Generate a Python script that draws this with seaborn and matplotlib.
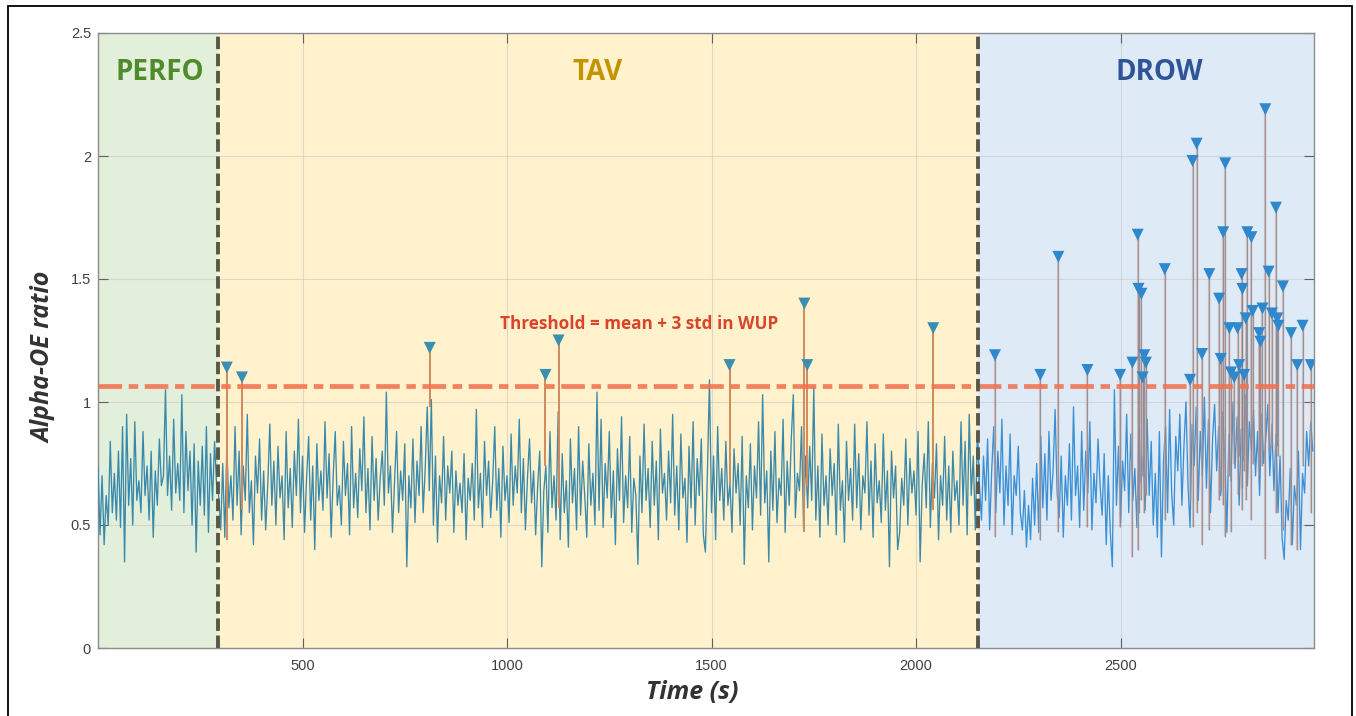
import numpy as np
import pandas as pd
import matplotlib
matplotlib.use("Agg")
import matplotlib.pyplot as plt
import seaborn as sns
from matplotlib.patches import Rectangle

# ---------------- data ----------------
STEP = 5  # seconds between samples

perfo_vals = [0.74, 0.46, 0.70, 0.42, 0.62, 0.50, 0.84, 0.55, 0.71, 0.52,
              0.80, 0.49, 0.90, 0.35, 0.95, 0.58, 0.77, 0.50, 0.92, 0.60,
              0.68, 0.55, 0.88, 0.62, 0.74, 0.52, 0.80, 0.45, 0.72, 0.58,
              0.85, 0.66, 0.70, 1.05, 0.62, 0.78, 0.56, 0.93, 0.63, 0.75,
              0.60, 1.03, 0.55, 0.88, 0.64, 0.80, 0.50, 0.83, 0.39, 0.76,
              0.58, 0.82, 0.54, 0.90, 0.47, 0.79, 0.60, 0.84, 0.66]

tav_vals = [0.62, 0.48, 0.75, 0.45, 0.82, 0.57, 0.70, 0.52, 0.90, 0.58, 0.80, 0.46, 0.74, 0.60, 0.95, 0.55, 0.68, 0.42, 0.78, 0.63,
            0.85, 0.52, 0.72, 0.48, 0.66, 0.91, 0.58, 0.76, 0.50, 0.82, 0.61, 0.70, 0.44, 0.88, 0.57, 0.73, 0.49, 0.80, 0.62, 0.93,
            0.55, 0.78, 0.47, 0.69, 0.86, 0.52, 0.74, 0.40, 0.83, 0.60, 0.72, 0.56, 0.92, 0.61, 0.79, 0.45, 0.70, 0.88, 0.58, 0.66,
            0.50, 0.84, 0.62, 0.75, 0.46, 0.90, 0.57, 0.71, 0.53, 0.81, 0.64, 0.94, 0.55, 0.73, 0.48, 0.86, 0.60, 0.77, 0.52, 0.69,
            0.80, 0.58, 1.04, 0.63, 0.74, 0.47, 0.67, 0.88, 0.55, 0.72, 0.60, 0.83, 0.33, 0.70, 0.57, 0.85, 0.51, 0.76, 0.62, 0.90,
            0.55, 0.73, 0.98, 0.64, 1.01, 0.50, 0.78, 0.43, 0.70, 0.59, 0.86, 0.52, 0.74, 0.63, 0.80, 0.47, 0.72, 0.58, 0.67, 0.55,
            0.79, 0.44, 0.69, 0.60, 0.75, 0.52, 0.97, 0.57, 0.71, 0.49, 0.84, 0.62, 0.76, 0.53, 0.68, 0.90, 0.56, 0.73, 0.45, 0.82,
            0.60, 0.70, 0.51, 0.87, 0.58, 0.74, 0.63, 0.93, 0.55, 0.77, 0.48, 0.69, 0.85, 0.59, 0.72, 0.46, 0.66, 0.80, 0.33, 0.64,
            0.74, 0.47, 0.88, 0.57, 0.70, 0.52, 0.96, 0.44, 0.79, 0.55, 0.68, 0.41, 0.85, 0.59, 0.73, 0.48, 0.90, 0.54, 0.76, 0.62,
            0.45, 0.83, 0.58, 0.71, 0.50, 1.04, 0.56, 0.93, 0.49, 0.75, 0.61, 0.88, 0.53, 0.72, 0.42, 0.81, 0.60, 0.94, 0.51, 0.70,
            0.57, 0.86, 0.47, 0.69, 0.62, 0.34, 0.78, 0.55, 0.91, 0.60, 0.73, 0.49, 0.84, 0.58, 0.76, 0.44, 0.89, 0.63, 0.71, 0.52,
            0.80, 0.59, 0.95, 0.54, 0.74, 0.48, 0.87, 0.61, 0.69, 0.43, 0.82, 0.57, 0.92, 0.50, 0.77, 0.62, 0.85, 0.46, 0.39, 0.72,
            1.09, 0.55, 0.78, 0.44, 0.90, 0.60, 0.73, 0.52, 0.84, 0.58, 0.67, 0.47, 0.81, 0.63, 0.75, 0.50, 0.86, 0.34, 0.70, 0.57,
            0.83, 0.48, 0.74, 0.61, 0.92, 0.54, 1.03, 0.59, 0.72, 0.35, 0.80, 0.56, 0.88, 0.51, 0.69, 0.62, 0.93, 0.47, 0.76, 0.58,
            0.85, 1.03, 0.53, 0.71, 0.64, 0.90, 0.49, 0.78, 0.57, 0.82, 0.60, 1.06, 0.52, 0.74, 0.45, 0.87, 0.58, 0.70, 0.50, 0.81,
            0.62, 0.75, 0.46, 0.91, 0.56, 0.68, 0.43, 0.84, 0.60, 0.73, 0.52, 0.91, 0.57, 0.79, 0.48, 0.70, 0.63, 0.92, 0.54, 0.76,
            0.45, 0.83, 0.59, 0.68, 0.51, 0.87, 0.56, 0.72, 0.33, 0.80, 0.61, 0.74, 0.40, 0.47, 0.69, 0.58, 0.85, 0.50, 0.77, 0.63,
            0.72, 0.54, 0.88, 0.35, 0.66, 0.79, 0.57, 0.92, 0.49, 0.75, 0.61, 0.83, 0.44, 0.70, 0.58, 0.86, 0.52, 0.74, 0.47, 0.80,
            0.60, 0.68, 0.50, 0.92, 0.58, 0.84, 0.46, 0.95, 0.62, 0.78, 0.48, 0.88]

drow_vals = [0.66, 0.52, 0.78, 0.60, 0.85, 0.48, 0.72, 0.90, 0.55, 0.80, 0.63, 0.93, 0.50, 0.74, 0.58, 0.87, 0.46, 0.70, 0.62, 0.82,
             0.55, 0.48, 0.64, 0.41, 0.58, 0.44, 0.69, 0.50, 0.75, 0.47, 0.86, 0.57, 0.79, 0.52, 0.88, 0.60, 0.72, 0.97, 0.63, 0.53,
             0.78, 0.45, 0.70, 0.58, 0.83, 0.52, 0.98, 0.62, 0.74, 0.49, 0.88, 0.56, 0.80, 0.63, 0.92, 0.48, 0.71, 0.59, 0.85, 0.66,
             0.54, 0.79, 0.42, 0.70, 0.47, 0.33, 1.05, 0.58, 0.82, 0.51, 0.76, 0.64, 0.95, 0.55, 0.87, 0.60, 0.73, 0.49, 0.90, 0.67,
             0.78, 0.56, 0.93, 0.62, 0.84, 0.50, 0.71, 0.45, 0.88, 0.37, 0.76, 0.90, 0.55, 0.97, 0.63, 0.50, 0.86, 0.72, 0.95, 0.58,
             0.82, 1.00, 0.66, 0.49, 0.91, 0.74, 0.98, 0.60, 0.88, 0.70, 1.02, 0.65, 0.93, 0.55, 0.85, 0.99, 0.72, 0.90, 0.62, 0.96,
             0.78, 0.47, 0.87, 0.68, 1.00, 0.73, 0.94, 0.58, 0.89, 0.76, 1.03, 0.66, 0.92, 0.80, 0.97, 0.70, 0.88, 0.62, 0.95, 0.75,
             0.85, 0.99, 0.70, 0.91, 0.64, 0.87, 0.55, 0.78, 0.45, 0.36, 0.60, 0.52, 0.73, 0.42, 0.66, 0.58, 0.80, 0.40, 0.71, 0.63,
             0.88, 0.74, 0.92, 0.80]

phase_names = ["PERFO", "TAV", "DROW"]
phase_edges = [0, 293, 2152, 2973]
threshold = 1.065

tav_peak_t = [315, 352, 811, 1094, 1126, 1544, 1727, 1734, 2042]
tav_peak_y = [1.14, 1.10, 1.22, 1.11, 1.25, 1.15, 1.40, 1.15, 1.30]
tav_peak_base = [0.44, 0.56, 0.98, 0.74, 0.57, 0.67, 0.47, 0.66, 0.56]

drow_peak_t = [2193, 2304, 2348, 2419, 2499, 2529, 2542, 2544, 2551, 2554,
               2558, 2562, 2608, 2670, 2676, 2686, 2699, 2717, 2741, 2745,
               2751, 2756, 2766, 2770, 2778, 2786, 2790, 2796, 2798, 2802,
               2806, 2810, 2820, 2823, 2839, 2842, 2847, 2854, 2862, 2870,
               2880, 2883, 2886, 2897, 2917, 2932, 2945, 2965]
drow_peak_y = [1.19, 1.11, 1.59, 1.13, 1.11, 1.16, 1.68, 1.46, 1.44, 1.10,
               1.19, 1.16, 1.54, 1.09, 1.98, 2.05, 1.195, 1.52, 1.42, 1.175,
               1.69, 1.97, 1.30, 1.12, 1.10, 1.30, 1.15, 1.52, 1.46, 1.11,
               1.34, 1.69, 1.67, 1.37, 1.28, 1.245, 1.38, 2.19, 1.53, 1.36,
               1.79, 1.34, 1.31, 1.47, 1.28, 1.15, 1.31, 1.15]
drow_peak_base = [0.45, 0.44, 0.47, 0.49, 0.49, 0.37, 0.40, 0.55, 0.60, 0.70,
                  0.55, 0.62, 0.52, 0.60, 0.49, 0.55, 0.42, 0.48, 0.60, 0.64,
                  0.58, 0.45, 0.70, 0.47, 0.75, 0.62, 0.78, 0.56, 0.65, 0.72,
                  0.60, 0.66, 0.52, 0.75, 0.70, 0.80, 0.74, 0.36, 0.80, 0.82,
                  0.55, 0.82, 0.78, 0.48, 0.42, 0.40, 0.74, 0.55]

xticks = [500, 1000, 1500, 2000, 2500]
yticks = [0, 0.5, 1, 1.5, 2, 2.5]
ytick_labels = ["0", "0.5", "1", "1.5", "2", "2.5"]

# ---------------- build frames ----------------
signal = perfo_vals + tav_vals + drow_vals
t_all = np.arange(len(signal)) * STEP
df = pd.DataFrame({"t": t_all, "v": signal})
drow_start = len(perfo_vals + tav_vals) * STEP
df_early = df[df.t <= drow_start]
df_drow = df[df.t >= drow_start - STEP]

# ---------------- style ----------------
sns.set_theme(style="ticks")
plt.rcParams["font.family"] = ["Liberation Sans", "DejaVu Sans"]

W, H = 1356, 716
fig = plt.figure(figsize=(W / 100, H / 100), dpi=100)
ax = fig.add_axes([98 / W, 1 - 648 / H, (1314 - 98) / W, (648 - 33) / H])

span_colors = ["#e2efda", "#fff2cc", "#deebf7"]
for i in range(3):
    ax.axvspan(phase_edges[i], phase_edges[i + 1], color=span_colors[i], lw=0, zorder=0)

ax.grid(True, color="#c4c4c4", lw=0.8, alpha=0.55)
ax.set_axisbelow(True)

# signal
sns.lineplot(data=df_early, x="t", y="v", color="#3a89aa", lw=0.95,
             estimator=None, sort=False, ax=ax, zorder=3)
sns.lineplot(data=df_drow, x="t", y="v", color="#3b8fd4", lw=0.95,
             estimator=None, sort=False, ax=ax, zorder=3)

# peak stems
ax.vlines(tav_peak_t, tav_peak_base, tav_peak_y, color="#d08a5c", lw=1.4, zorder=4)
ax.vlines(drow_peak_t, drow_peak_base, drow_peak_y, color="#e0a088", lw=1.6, alpha=0.6, zorder=4)
ax.vlines(drow_peak_t, drow_peak_base, drow_peak_y, color="#7a8699", lw=0.9, alpha=0.75, zorder=4.1)

# threshold
ax.axhline(threshold, color="#f2714f", lw=3.4, ls=(0, (5, 1.4, 2, 1.4)), alpha=0.88, zorder=4.5)

# peak markers
sns.scatterplot(x=tav_peak_t, y=tav_peak_y, marker="v", s=75, color="#3a8fb0",
                edgecolor="none", ax=ax, zorder=6)
sns.scatterplot(x=drow_peak_t, y=drow_peak_y, marker="v", s=75, color="#2f88cc",
                edgecolor="none", ax=ax, zorder=6)

# phase dividers
for xb in phase_edges[1:3]:
    ax.axvline(xb, color="#57574a", lw=2.8, ls=(0, (3.2, 1.2)), zorder=7)

# phase labels
label_font = ["Open Sans", "DejaVu Sans"]
ax.text(150, 2.34, phase_names[0], ha="center", va="center", fontsize=20,
        fontweight="bold", color="#4f8a2b", family=label_font)
ax.text(1222, 2.34, phase_names[1], ha="center", va="center", fontsize=20,
        fontweight="bold", color="#c49400", family=label_font)
ax.text(2595, 2.34, phase_names[2], ha="center", va="center", fontsize=20,
        fontweight="bold", color="#2f5597", family=label_font)

ax.text(1324, 1.317, "Threshold = mean + 3 std in WUP", ha="center", va="center",
        fontsize=12.3, fontweight="bold", color="#d9452b", family=label_font)

# axes
ax.set_xlim(phase_edges[0], phase_edges[-1])
ax.set_ylim(0, 2.5)
ax.set_xticks(xticks)
ax.set_yticks(yticks)
ax.set_yticklabels(ytick_labels)
ax.tick_params(direction="in", length=7, width=0.8, color="#606060",
               top=True, right=True, labelsize=10.5, labelcolor="#404040")
ax.tick_params(axis="x", pad=8)
ax.tick_params(axis="y", pad=5)
for sp in ax.spines.values():
    sp.set_color("#8c8c8c")
    sp.set_linewidth(1.0)

ax.set_xlabel("Time (s)", fontsize=18, fontweight="bold", fontstyle="italic",
              color="#333333", family=label_font)
ax.set_ylabel("Alpha-OE ratio", fontsize=18, fontweight="bold", fontstyle="italic",
              color="#333333", family=label_font)
ax.xaxis.set_label_coords(0.489, -0.052)
ax.yaxis.set_label_coords(-0.034, 0.473)

# outer frame
fig.patches.append(Rectangle((8 / W, -0.1), (1352 - 8) / W, 1 - 6 / H + 0.1,
                             transform=fig.transFigure, fill=False,
                             ec="black", lw=1.3))

fig.savefig("out.png", dpi=100)
